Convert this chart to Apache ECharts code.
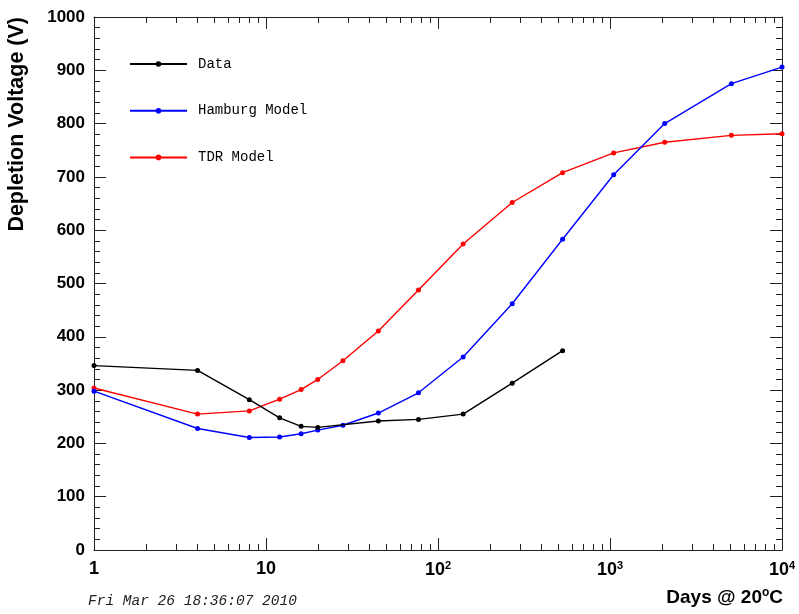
<!DOCTYPE html>
<html><head><meta charset="utf-8">
<script src="https://cdn.jsdelivr.net/npm/echarts@6/dist/echarts.min.js"></script>
<style>html,body{margin:0;padding:0;background:#fff}#c{width:799px;height:614px}</style>
</head><body><div id="c"></div>
<script>
// ---- data ----
const seriesNames = ['Data', 'Hamburg Model', 'TDR Model'];
const dataDays = [1, 4, 8, 12, 16, 20, 45, 77, 140, 270, 530];
const dataV = [346, 337, 282, 248, 232, 230, 242, 245, 255, 313, 374];
const modelDays = [1, 4, 8, 12, 16, 20, 28, 45, 77, 140, 270, 530, 1050, 2080, 5080, 10000];
const hamburgV = [298, 228, 211, 212, 218, 225, 234, 257, 295, 362, 462, 583, 704, 800, 875, 906];
const tdrV = [304, 255, 261, 283, 301, 320, 355, 411, 488, 574, 652, 708, 745, 765, 778, 781];
const xMajor = [1, 10, 100, 1000, 10000];
const xMinor = [2,3,4,5,6,7,8,9,20,30,40,50,60,70,80,90,200,300,400,500,600,700,800,900,2000,3000,4000,5000,6000,7000,8000,9000];
const yTicks = [0, 100, 200, 300, 400, 500, 600, 700, 800, 900, 1000];
const yTitle = 'Depletion Voltage (V)';
const xTitle = 'Days @ 20{s|o}C';
const stamp = 'Fri Mar 26 18:36:07 2010';

const chart = echarts.init(document.getElementById('c'), null, {renderer: 'canvas'});
const axisCol = '#222';
const lbl = 'Liberation Sans';
const pair = (xs, ys) => xs.map((x, i) => [x, ys[i]]);

function xLabel(v) {
  const e = Math.round(Math.log10(v));
  if (e === 0) return '{b|1}';
  if (e === 1) return '{b|10}';
  return '{b|10}{s|' + e + '}';
}
const baseX = {type: 'log', logBase: 10, min: 1, max: 10000, splitLine: {show: false}};
function mkX(pos, ticks, len, labels, line) {
  return Object.assign({}, baseX, {
    position: pos,
    axisLine: {show: line, lineStyle: {color: axisCol, width: 1}},
    axisTick: {show: true, inside: true, length: len, customValues: ticks, lineStyle: {color: axisCol}},
    axisLabel: labels ? {
      show: true, customValues: xMajor, margin: 10, formatter: xLabel,
      rich: {
        b: {fontFamily: lbl, fontWeight: 'bold', fontSize: 18, color: '#000'},
        s: {fontFamily: lbl, fontWeight: 'bold', fontSize: 11, color: '#000', padding: [0, 0, 9, 0]}
      }
    } : {show: false}
  });
}
function mkY(pos, labels) {
  return {
    type: 'value', min: 0, max: 1000, interval: 100, position: pos,
    splitLine: {show: false},
    axisLine: {show: true, lineStyle: {color: axisCol, width: 1}},
    axisTick: {show: true, inside: true, length: 12, lineStyle: {color: axisCol}},
    minorTick: {show: true, splitNumber: 5, length: 6, lineStyle: {color: axisCol}},
    axisLabel: labels ? {show: true, margin: 9, fontFamily: lbl, fontWeight: 'bold', fontSize: 17, color: '#000',
      customValues: yTicks, formatter: v => String(v)} : {show: false}
  };
}

const colors = ['#000000', '#0000ff', '#ff0000'];
const seriesData = [pair(dataDays, dataV), pair(modelDays, hamburgV), pair(modelDays, tdrV)];

chart.setOption({
  animation: false,
  backgroundColor: '#fff',
  grid: {left: 94, right: 17, top: 17, bottom: 64, containLabel: false},
  xAxis: [
    mkX('bottom', xMajor, 12, true, true),
    mkX('bottom', xMinor, 6, false, false),
    mkX('top', xMajor, 12, false, true),
    mkX('top', xMinor, 6, false, false)
  ],
  yAxis: [mkY('left', true), mkY('right', false)],
  legend: {
    orient: 'vertical', left: 129, top: 56, padding: 0, itemWidth: 57, itemHeight: 7, itemGap: 30.7,
    data: seriesNames,
    textStyle: {fontFamily: 'Liberation Mono', fontSize: 14, color: '#000', padding: [0, 0, 0, 6], lineHeight: 16}
  },
  series: seriesNames.map((n, i) => ({
    name: n, type: 'line', data: seriesData[i], xAxisIndex: 0, yAxisIndex: 0,
    symbol: 'circle', symbolSize: 5, showSymbol: true,
    lineStyle: {color: colors[i], width: 1.4}, itemStyle: {color: colors[i]},
    z: 3 - i
  })),
  graphic: [
    {type: 'text', x: 17, y: 17, rotation: Math.PI / 2,
      style: {text: yTitle, font: 'bold 21.5px "Liberation Sans"', fill: '#000', align: 'right', verticalAlign: 'middle'}},
    {type: 'text', x: 783, y: 598,
      style: {text: xTitle, font: 'bold 19px "Liberation Sans"', fill: '#000', align: 'right', verticalAlign: 'middle',
        rich: {s: {fontFamily: lbl, fontWeight: 'bold', fontSize: 12, padding: [0, 0, 10, 0]}}}},
    {type: 'text', x: 88, y: 601,
      style: {text: stamp, font: 'italic 14.5px "Liberation Mono"', fill: '#222', align: 'left', verticalAlign: 'middle'}}
  ]
});
</script></body></html>
